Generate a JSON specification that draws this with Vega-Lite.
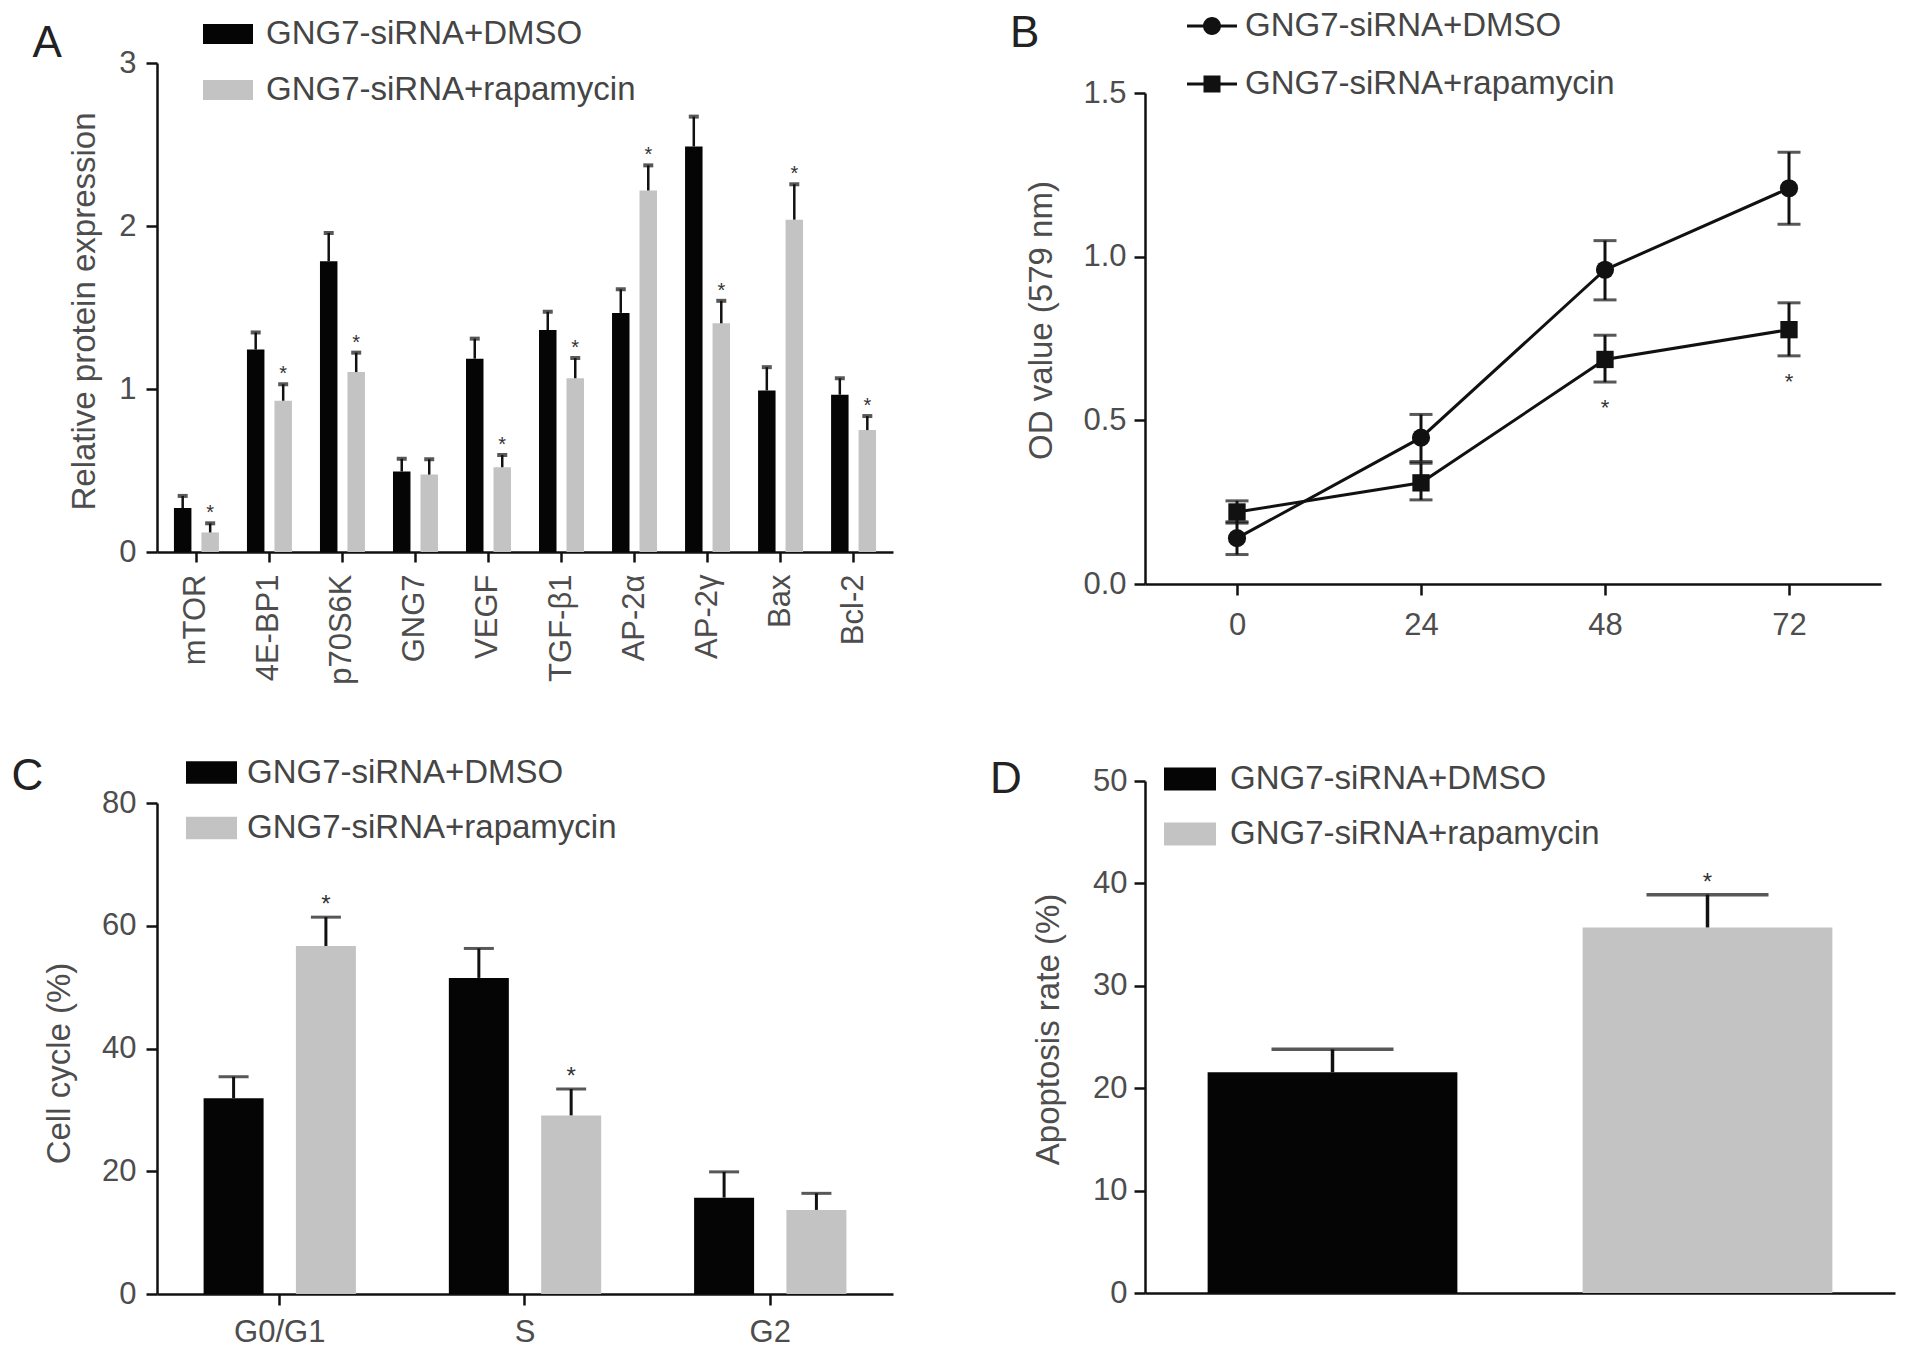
{
  "$schema": "https://vega.github.io/schema/vega-lite/v6.json",
  "background": "white",
  "padding": {"left": 11, "top": 1, "right": 5, "bottom": 5},
  "bounds": "flush",
  "columns": 2,
  "spacing": {"row": 197, "column": 252},
  "resolve": {
    "scale": {"color": "independent", "shape": "independent", "xOffset": "independent"},
    "legend": {"color": "independent", "shape": "independent"}
  },
  "config": {
    "font": "Liberation Sans",
    "view": {"stroke": null},
    "axis": {"domainColor": "#111", "domainWidth": 2.5, "tickColor": "#111", "tickWidth": 2.5, "tickSize": 11, "labelFont": "Liberation Sans", "labelFontSize": 31, "labelColor": "#4d4d4d", "titleFont": "Liberation Sans", "titleFontSize": 33, "titleColor": "#4d4d4d", "titleFontWeight": "normal", "grid": false, "labelPadding": 9, "titleBaseline": "middle", "titleAngle": -90},
    "axisX": {"titleAngle": 0, "titleFontSize": 44, "titleColor": "#222", "titleAlign": "left", "titleBaseline": "alphabetic", "titleAnchor": "start"},
    "legend": {"labelFont": "Liberation Sans", "labelFontSize": 33, "labelColor": "#454545", "labelLimit": 700, "padding": 0, "title": null},
    "bar": {"stroke": null}
  },
  "concat": [
    {
      "width": 736,
      "height": 489,
      "data": {"values": [
        {"protein": "mTOR", "group": "GNG7-siRNA+DMSO", "mean": 0.27, "upper": 0.344, "sig": ""},
        {"protein": "mTOR", "group": "GNG7-siRNA+rapamycin", "mean": 0.12, "upper": 0.176, "sig": "*"},
        {"protein": "4E-BP1", "group": "GNG7-siRNA+DMSO", "mean": 1.242, "upper": 1.347, "sig": ""},
        {"protein": "4E-BP1", "group": "GNG7-siRNA+rapamycin", "mean": 0.928, "upper": 1.029, "sig": "*"},
        {"protein": "p70S6K", "group": "GNG7-siRNA+DMSO", "mean": 1.784, "upper": 1.957, "sig": ""},
        {"protein": "p70S6K", "group": "GNG7-siRNA+rapamycin", "mean": 1.104, "upper": 1.223, "sig": "*"},
        {"protein": "GNG7", "group": "GNG7-siRNA+DMSO", "mean": 0.494, "upper": 0.572, "sig": ""},
        {"protein": "GNG7", "group": "GNG7-siRNA+rapamycin", "mean": 0.475, "upper": 0.569, "sig": ""},
        {"protein": "VEGF", "group": "GNG7-siRNA+DMSO", "mean": 1.186, "upper": 1.309, "sig": ""},
        {"protein": "VEGF", "group": "GNG7-siRNA+rapamycin", "mean": 0.52, "upper": 0.595, "sig": "*"},
        {"protein": "TGF-β1", "group": "GNG7-siRNA+DMSO", "mean": 1.362, "upper": 1.474, "sig": ""},
        {"protein": "TGF-β1", "group": "GNG7-siRNA+rapamycin", "mean": 1.066, "upper": 1.19, "sig": "*"},
        {"protein": "AP-2α", "group": "GNG7-siRNA+DMSO", "mean": 1.467, "upper": 1.612, "sig": ""},
        {"protein": "AP-2α", "group": "GNG7-siRNA+rapamycin", "mean": 2.218, "upper": 2.372, "sig": "*"},
        {"protein": "AP-2γ", "group": "GNG7-siRNA+DMSO", "mean": 2.488, "upper": 2.671, "sig": ""},
        {"protein": "AP-2γ", "group": "GNG7-siRNA+rapamycin", "mean": 1.403, "upper": 1.541, "sig": "*"},
        {"protein": "Bax", "group": "GNG7-siRNA+DMSO", "mean": 0.991, "upper": 1.134, "sig": ""},
        {"protein": "Bax", "group": "GNG7-siRNA+rapamycin", "mean": 2.039, "upper": 2.256, "sig": "*"},
        {"protein": "Bcl-2", "group": "GNG7-siRNA+DMSO", "mean": 0.965, "upper": 1.066, "sig": ""},
        {"protein": "Bcl-2", "group": "GNG7-siRNA+rapamycin", "mean": 0.748, "upper": 0.834, "sig": "*"}
      ]},
      "encoding": {
        "x": {"field": "protein", "type": "nominal", "sort": null, "title": "A", "scale": {"paddingInner": 0.384, "paddingOuter": 0.232}, "axis": {"labelAngle": -90, "labelPadding": 12, "tickSize": 10, "titleX": -125, "titleY": -496}},
        "xOffset": {"field": "group", "type": "nominal", "sort": null, "scale": {"paddingInner": 0.364, "paddingOuter": 0}}
      },
      "layer": [
        {
          "mark": {"type": "bar"},
          "encoding": {
            "y": {"field": "mean", "type": "quantitative", "title": "Relative protein expression", "scale": {"domain": [0, 3], "nice": false}, "axis": {"values": [0, 1, 2, 3], "format": "d", "titleX": -73, "titleY": 248, "labelPadding": 10}},
            "color": {"field": "group", "type": "nominal", "scale": {"domain": ["GNG7-siRNA+DMSO", "GNG7-siRNA+rapamycin"], "range": ["#050505", "#c3c3c3"]}, "legend": {"orient": "none", "legendX": 46, "legendY": -54, "symbolType": "M-1,-0.4H1V0.4H-1Z", "symbolSize": 2500, "symbolStrokeWidth": 0, "labelOffset": 13, "rowPadding": 14}}
          }
        },
        {
          "mark": {"type": "rule", "color": "#111", "strokeWidth": 2.5},
          "encoding": {"y": {"field": "mean", "type": "quantitative", "title": "Relative protein expression"}, "y2": {"field": "upper"}}
        },
        {
          "mark": {"type": "tick", "orient": "horizontal", "color": "#111", "thickness": 4, "size": 10},
          "encoding": {"y": {"field": "upper", "type": "quantitative", "title": "Relative protein expression"}}
        },
        {
          "mark": {"type": "text", "fontSize": 20, "color": "#333", "baseline": "alphabetic", "dy": -4},
          "encoding": {"y": {"field": "upper", "type": "quantitative", "title": "Relative protein expression"}, "text": {"field": "sig"}}
        }
      ]
    },
    {
      "width": 736,
      "height": 521,
      "data": {"values": [
        {"time": 0, "group": "GNG7-siRNA+DMSO", "mean": 0.14, "lo": 0.09, "hi": 0.19, "sig": ""},
        {"time": 24, "group": "GNG7-siRNA+DMSO", "mean": 0.447, "lo": 0.374, "hi": 0.518, "sig": ""},
        {"time": 48, "group": "GNG7-siRNA+DMSO", "mean": 0.96, "lo": 0.868, "hi": 1.049, "sig": ""},
        {"time": 72, "group": "GNG7-siRNA+DMSO", "mean": 1.209, "lo": 1.099, "hi": 1.319, "sig": ""},
        {"time": 0, "group": "GNG7-siRNA+rapamycin", "mean": 0.22, "lo": 0.186, "hi": 0.254, "sig": ""},
        {"time": 24, "group": "GNG7-siRNA+rapamycin", "mean": 0.309, "lo": 0.257, "hi": 0.369, "sig": ""},
        {"time": 48, "group": "GNG7-siRNA+rapamycin", "mean": 0.686, "lo": 0.617, "hi": 0.76, "sig": "*"},
        {"time": 72, "group": "GNG7-siRNA+rapamycin", "mean": 0.777, "lo": 0.697, "hi": 0.859, "sig": "*"}
      ]},
      "encoding": {
        "x": {"field": "time", "type": "quantitative", "title": "B", "scale": {"domain": [-12, 84], "nice": false, "zero": false}, "axis": {"values": [0, 24, 48, 72], "labelPadding": 15, "titleX": -135.5, "titleY": -538}}
      },
      "layer": [
        {
          "mark": {"type": "line", "color": "#111", "strokeWidth": 3},
          "encoding": {
            "y": {"field": "mean", "type": "quantitative", "title": "OD value (579 nm)", "scale": {"domain": [0, 1.5], "range": [521, 30], "nice": false}, "axis": {"values": [0, 0.5, 1, 1.5], "format": ".1f", "titleX": -104, "titleY": 257, "labelPadding": 8}},
            "detail": {"field": "group"}
          }
        },
        {
          "mark": {"type": "rule", "color": "#111", "strokeWidth": 3},
          "encoding": {"y": {"field": "lo", "type": "quantitative", "title": "OD value (579 nm)"}, "y2": {"field": "hi"}}
        },
        {
          "mark": {"type": "tick", "orient": "horizontal", "color": "#111", "thickness": 3, "size": 23},
          "encoding": {"y": {"field": "lo", "type": "quantitative", "title": "OD value (579 nm)"}}
        },
        {
          "mark": {"type": "tick", "orient": "horizontal", "color": "#111", "thickness": 3, "size": 23},
          "encoding": {"y": {"field": "hi", "type": "quantitative", "title": "OD value (579 nm)"}}
        },
        {
          "transform": [{"filter": "datum.group === 'GNG7-siRNA+DMSO'"}],
          "mark": {"type": "point", "shape": "circle", "filled": true, "opacity": 1, "color": "#111", "size": 330},
          "encoding": {"y": {"field": "mean", "type": "quantitative", "title": "OD value (579 nm)"}}
        },
        {
          "transform": [{"filter": "datum.group === 'GNG7-siRNA+rapamycin'"}],
          "mark": {"type": "point", "shape": "square", "filled": true, "opacity": 1, "color": "#111", "size": 300},
          "encoding": {"y": {"field": "mean", "type": "quantitative", "title": "OD value (579 nm)"}}
        },
        {
          "mark": {"type": "point", "filled": true, "opacity": 0, "color": "#111", "size": 300},
          "encoding": {
            "y": {"field": "mean", "type": "quantitative", "title": "OD value (579 nm)"},
            "shape": {"field": "group", "type": "nominal", "scale": {"domain": ["GNG7-siRNA+DMSO", "GNG7-siRNA+rapamycin"], "range": ["M-1,-0.06H1V0.06H-1Z M-0.36,0A0.36,0.36 0 1,1 0.36,0A0.36,0.36 0 1,1 -0.36,0Z", "M-1,-0.06H1V0.06H-1Z M-0.34,-0.34H0.34V0.34H-0.34Z"]},
              "legend": {"orient": "none", "legendX": 42, "legendY": -62, "symbolSize": 2500, "symbolStrokeWidth": 0, "symbolFillColor": "#111", "symbolOpacity": 1, "labelOffset": 8, "rowPadding": 16}}
          }
        },
        {
          "mark": {"type": "text", "fontSize": 22, "color": "#333", "baseline": "alphabetic", "dy": 33},
          "encoding": {"y": {"field": "lo", "type": "quantitative", "title": "OD value (579 nm)"}, "text": {"field": "sig"}}
        }
      ]
    },
    {
      "width": 736,
      "height": 513,
      "data": {"values": [
        {"phase": "G0/G1", "group": "GNG7-siRNA+DMSO", "mean": 31.9, "upper": 35.4, "sig": ""},
        {"phase": "G0/G1", "group": "GNG7-siRNA+rapamycin", "mean": 56.7, "upper": 61.4, "sig": "*"},
        {"phase": "S", "group": "GNG7-siRNA+DMSO", "mean": 51.5, "upper": 56.3, "sig": ""},
        {"phase": "S", "group": "GNG7-siRNA+rapamycin", "mean": 29.1, "upper": 33.4, "sig": "*"},
        {"phase": "G2", "group": "GNG7-siRNA+DMSO", "mean": 15.7, "upper": 19.9, "sig": ""},
        {"phase": "G2", "group": "GNG7-siRNA+rapamycin", "mean": 13.7, "upper": 16.4, "sig": ""}
      ]},
      "encoding": {
        "x": {"field": "phase", "type": "nominal", "sort": null, "title": "C", "scale": {"paddingInner": 0.379, "paddingOuter": 0.19}, "axis": {"labelAngle": 0, "labelPadding": 12, "titleX": -146, "titleY": -505}},
        "xOffset": {"field": "group", "type": "nominal", "sort": null, "scale": {"paddingInner": 0.35, "paddingOuter": 0}}
      },
      "layer": [
        {
          "mark": {"type": "bar"},
          "encoding": {
            "y": {"field": "mean", "type": "quantitative", "title": "Cell cycle (%)", "scale": {"domain": [0, 80], "range": [513, 22], "nice": false}, "axis": {"values": [0, 20, 40, 60, 80], "titleX": -98, "titleY": 282, "labelPadding": 10}},
            "color": {"field": "group", "type": "nominal", "scale": {"domain": ["GNG7-siRNA+DMSO", "GNG7-siRNA+rapamycin"], "range": ["#050505", "#c3c3c3"]}, "legend": {"orient": "none", "legendX": 29, "legendY": -34, "symbolType": "M-1,-0.44H1V0.44H-1Z", "symbolSize": 2601, "symbolStrokeWidth": 0, "labelOffset": 10, "rowPadding": 12.5}}
          }
        },
        {
          "mark": {"type": "rule", "color": "#111", "strokeWidth": 3},
          "encoding": {"y": {"field": "mean", "type": "quantitative", "title": "Cell cycle (%)"}, "y2": {"field": "upper"}}
        },
        {
          "mark": {"type": "tick", "orient": "horizontal", "color": "#111", "thickness": 3, "size": 30},
          "encoding": {"y": {"field": "upper", "type": "quantitative", "title": "Cell cycle (%)"}}
        },
        {
          "mark": {"type": "text", "fontSize": 24, "color": "#333", "baseline": "alphabetic", "dy": -5},
          "encoding": {"y": {"field": "upper", "type": "quantitative", "title": "Cell cycle (%)"}, "text": {"field": "sig"}}
        }
      ]
    },
    {
      "width": 750,
      "height": 512,
      "data": {"values": [
        {"group": "GNG7-siRNA+DMSO", "mean": 21.55, "upper": 23.8, "sig": ""},
        {"group": "GNG7-siRNA+rapamycin", "mean": 35.7, "upper": 38.9, "sig": "*"}
      ]},
      "encoding": {
        "x": {"field": "group", "type": "nominal", "sort": null, "title": "D", "scale": {"paddingInner": 0.334, "paddingOuter": 0.167}, "axis": {"labels": false, "ticks": false, "titleX": -155.5, "titleY": -501}}
      },
      "layer": [
        {
          "mark": {"type": "bar"},
          "encoding": {
            "y": {"field": "mean", "type": "quantitative", "title": "Apoptosis rate (%)", "scale": {"domain": [0, 50], "nice": false}, "axis": {"values": [0, 10, 20, 30, 40, 50], "titleX": -97, "titleY": 248, "labelPadding": 7}},
            "color": {"field": "group", "type": "nominal", "scale": {"domain": ["GNG7-siRNA+DMSO", "GNG7-siRNA+rapamycin"], "range": ["#050505", "#c3c3c3"]}, "legend": {"orient": "none", "legendX": 19, "legendY": -28, "symbolType": "M-1,-0.44H1V0.44H-1Z", "symbolSize": 2704, "symbolStrokeWidth": 0, "labelOffset": 14, "rowPadding": 12}}
          }
        },
        {
          "mark": {"type": "rule", "color": "#111", "strokeWidth": 3.5},
          "encoding": {"y": {"field": "mean", "type": "quantitative", "title": "Apoptosis rate (%)"}, "y2": {"field": "upper"}}
        },
        {
          "mark": {"type": "tick", "orient": "horizontal", "color": "#111", "thickness": 3.5, "size": 122},
          "encoding": {"y": {"field": "upper", "type": "quantitative", "title": "Apoptosis rate (%)"}}
        },
        {
          "mark": {"type": "text", "fontSize": 24, "color": "#333", "baseline": "alphabetic", "dy": -5},
          "encoding": {"y": {"field": "upper", "type": "quantitative", "title": "Apoptosis rate (%)"}, "text": {"field": "sig"}}
        }
      ]
    }
  ]
}
